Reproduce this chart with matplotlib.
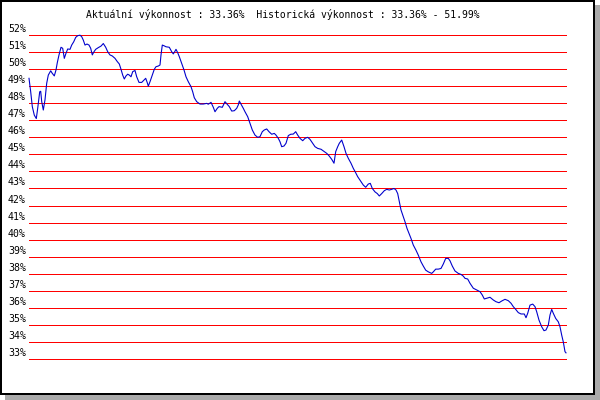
import matplotlib
matplotlib.use("Agg")
import matplotlib.pyplot as plt
from matplotlib.patches import Rectangle
from matplotlib.transforms import ScaledTranslation

# ---- data ----
days = [0, 1.7, 3.3, 5.3, 7.3, 8.7, 10.7, 11.7, 12.7, 14.3, 16, 17.7, 19.3, 21.7, 23.3, 25.3,
        27, 28.3, 30, 32, 33.7, 35.3, 37, 38.7, 41, 42.7, 44.7, 46.7, 48.7, 51, 52.7, 54.3,
        56, 58, 60, 61.7, 63.3, 65, 66.7, 69.3, 72, 74.3, 76.7, 78.7, 81, 83.3, 86, 88.3,
        90.3, 92, 93.7, 95.3, 97, 98.7, 100.3, 102, 103.7, 106, 107.7, 110, 112.7, 115,
        116.7, 118.3, 119.3, 121, 123.3, 125.3, 127, 129.3, 131, 132, 133.3, 135, 137, 140.3,
        142.7, 144.3, 145.7, 147, 148.7, 150.3, 152.7, 155, 157, 159.3, 162, 163.7, 165.3,
        167.7, 171, 174.3, 177.7, 179.3, 182, 184.3, 186, 188.3, 190, 193.3, 196, 198, 200.3,
        202.7, 205.3, 207.7, 209.3, 210.3, 212, 214.3, 216, 218.7, 221, 223.3, 226, 228.7,
        231, 233.3, 235.3, 237.7, 240, 242.7, 245.3, 247, 249.3, 251, 252.7, 255, 257, 259.3,
        261.7, 264.3, 266.7, 268.7, 271, 273.7, 276, 278.7, 281, 283.3, 286, 288.7, 292,
        295.3, 297.7, 300, 302.7, 305, 306.7, 308.7, 310.3, 312.7, 315, 317, 319.3, 322,
        324.3, 326, 328.7, 332, 334.3, 336.7, 339.3, 341.3, 343.3, 346, 348.3, 350.3, 352.7,
        355.3, 357.7, 360.3, 362.7, 365, 367, 368.7, 370.3, 372, 373.7, 376, 378, 380, 382,
        384.3, 387, 389.3, 392, 394.3, 396.7, 399.3, 402.7, 404.3, 406.7, 409.3, 412, 414.3,
        416.7, 419.3, 421, 423.3, 426, 429.3, 432, 434.3, 436, 438.7, 441, 444.3, 447.7, 451,
        453.3, 455.3, 457.7, 461, 464.3, 467, 470, 472.7, 476, 479.3, 482, 484.3, 486.7,
        489.3, 492, 495.3, 497, 498.7, 501, 503.7, 506, 507.7, 510, 512.7, 515, 517, 519.3,
        521, 522.7, 524.3, 526.7, 529.3, 531, 532.7, 534.3, 536, 537]
perf = [49.46, 48.67, 47.8, 47.3, 47.1, 47.7, 48.67, 48.7, 48.1, 47.6, 48.2, 49.17, 49.65,
        49.9, 49.75, 49.6, 49.95, 50.38, 50.83, 51.28, 51.22, 50.63, 50.93, 51.18, 51.16,
        51.41, 51.6, 51.86, 51.96, 51.99, 51.9, 51.7, 51.41, 51.47, 51.41, 51.22, 50.83,
        51.02, 51.16, 51.26, 51.35, 51.5, 51.28, 51.02, 50.83, 50.77, 50.63, 50.44, 50.3,
        49.99, 49.65, 49.42, 49.6, 49.7, 49.65, 49.55, 49.85, 49.92, 49.55, 49.22, 49.22,
        49.36, 49.46, 49.2, 49.0, 49.26, 49.65, 49.99, 50.14, 50.18, 50.24, 50.83, 51.41,
        51.37, 51.31, 51.28, 51.02, 50.89, 51.02, 51.16, 50.96, 50.73, 50.34, 49.95, 49.55,
        49.26, 48.97, 48.67, 48.32, 48.09, 47.95, 47.95, 47.99, 47.94, 48.05, 47.76, 47.5,
        47.7, 47.8, 47.76, 48.09, 47.95, 47.8, 47.54, 47.56, 47.7, 47.9, 48.13, 47.95, 47.7,
        47.5, 47.21, 46.82, 46.43, 46.13, 46.0, 46.04, 46.33, 46.43, 46.49, 46.33, 46.18,
        46.23, 46.13, 45.94, 45.74, 45.45, 45.49, 45.65, 46.1, 46.18, 46.19, 46.33, 46.13,
        45.94, 45.8, 45.94, 46.0, 45.88, 45.68, 45.45, 45.35, 45.3, 45.16, 45.06, 44.92,
        44.71, 44.48, 45.16, 45.45, 45.65, 45.84, 45.45, 45.06, 44.77, 44.48, 44.18, 44.0,
        43.69, 43.4, 43.2, 43.07, 43.26, 43.3, 43.0, 42.8, 42.7, 42.56, 42.7, 42.87, 42.95,
        42.91, 42.95, 43.0, 42.91, 42.7, 42.22, 41.74, 41.44, 41.05, 40.66, 40.37, 40.07,
        39.68, 39.38, 39.09, 38.7, 38.45, 38.21, 38.11, 38.02, 38.11, 38.27, 38.27, 38.31,
        38.57, 38.9, 38.9, 38.76, 38.45, 38.16, 38.02, 37.96, 37.86, 37.73, 37.69, 37.44,
        37.15, 37.05, 36.95, 36.75, 36.52, 36.56, 36.62, 36.46, 36.36, 36.3, 36.4, 36.5,
        36.42, 36.27, 36.07, 35.91, 35.72, 35.64, 35.64, 35.42, 35.68, 36.16, 36.22, 36.07,
        35.77, 35.28, 34.89, 34.66, 34.7, 34.99, 35.58, 35.91, 35.68, 35.38, 35.18, 34.89,
        34.4, 34.0, 33.43, 33.36]
levels = list(range(33, 53))
level_labels = [f"{v}%" for v in levels]
title = "Aktuální výkonnost : 33.36%  Historická výkonnost : 33.36% - 51.99%"

W, H = 600, 400
fig = plt.figure(figsize=(6, 4), dpi=100)
px = 0.72  # one pixel in points

# frame with shadow
fig.add_artist(Rectangle((5 / W, 0), 595 / W, 395 / H, transform=fig.transFigure,
                         facecolor="#aaaaaa", edgecolor="none", zorder=0))
fig.add_artist(Rectangle((1 / W, 6 / H), 593 / W, 393 / H, transform=fig.transFigure,
                         facecolor="white", edgecolor="black", lw=2 * px, zorder=1))

ax = fig.add_axes([29 / W, 1 - 359 / H, (566 - 29) / W, (359 - 35) / H])
ax.set_facecolor("none")
ax.set_zorder(2)
for s in ax.spines.values():
    s.set_visible(False)
ax.set_xlim(0, 537)
ax.set_ylim(33, 52)
ax.set_xticks([])
ax.set_yticks(levels)
ax.set_yticklabels(level_labels, family="DejaVu Sans Mono", fontsize=7.1)
ax.tick_params(axis="y", length=0, pad=2.2)
off = ScaledTranslation(0, 7 / 100, fig.dpi_scale_trans)
for lab in ax.get_yticklabels():
    lab.set_transform(lab.get_transform() + off)

for v in levels:
    ax.axhline(v, color="#ff0000", lw=1.0 * px, antialiased=False, zorder=1, clip_on=False)

ax.plot(days, perf, color="#0000cc", lw=1.1 * px, zorder=3, clip_on=False)

fig.text(283 / W, 1 - 14 / H, title, family="DejaVu Sans Mono", fontsize=7.05,
         ha="center", va="center", zorder=3)

fig.savefig("out.png", dpi=100)
